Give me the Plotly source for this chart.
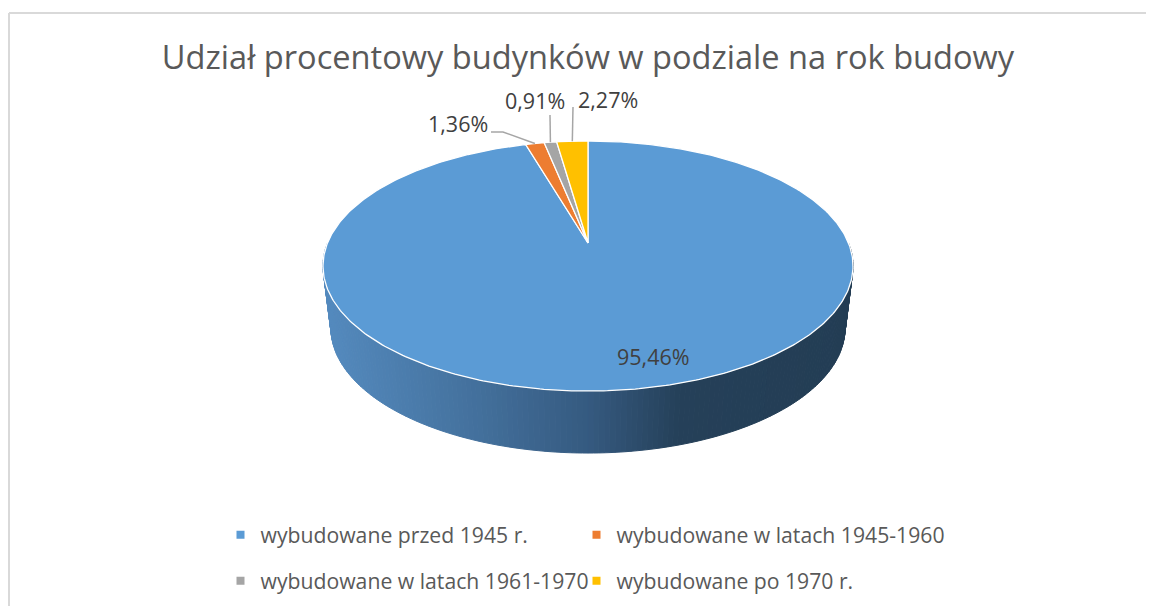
import math
import plotly.graph_objects as go

categories = ["wybudowane przed 1945 r.", "wybudowane w latach 1945-1960",
              "wybudowane w latach 1961-1970", "wybudowane po 1970 r."]
values = [95.46, 1.36, 0.91, 2.27]
colors = ["#5B9BD5", "#ED7D31", "#A5A5A5", "#FFC000"]
title = "Udział procentowy budynków w podziale na rok budowy"

# view geometry (axes are scaled in page pixels; the page body has an 8 px margin)
PAGE_W, PAGE_H, BODY = 1154, 606, 8
W, H = PAGE_W - BODY, PAGE_H - BODY
CX, CY = 588, 243
A, B, K = 260.5, 120.8, 0.184
DEPTH, SHRINK = 62, 0.97


def fx(x):
    return (x - BODY) / W


def fy(y):
    return 1 - (y - BODY) / H


def proj(theta, depth=0.0):
    w = 1 + K * math.cos(theta)
    s = 1 - (1 - SHRINK) * depth
    return CX + s * A * math.sin(theta) / w, CY + DEPTH * depth - B * math.cos(theta) / w


def lerp_color(x):
    stops = [(323, (0x54, 0x8A, 0xBE)), (460, (0x45, 0x73, 0xA0)), (588, (0x35, 0x5A, 0x80)),
             (680, (0x25, 0x40, 0x59)), (853, (0x23, 0x3D, 0x54))]
    for (x0, c0), (x1, c1) in zip(stops, stops[1:]):
        if x <= x1:
            t = max(0, (x - x0) / (x1 - x0))
            return "rgb(%d,%d,%d)" % tuple(round(a + (b - a) * t) for a, b in zip(c0, c1))
    return "rgb(35,61,84)"


fig = go.Figure()

# side wall, drawn as strips that follow the rim
N = 180
for i in range(N):
    t0 = math.pi / 2 + math.pi * i / N
    t1 = math.pi / 2 + math.pi * (i + 1) / N
    pts = [proj(t0), proj(t1), proj(t1, 1), proj(t0, 1)]
    pts.append(pts[0])
    col = lerp_color((pts[0][0] + pts[1][0]) / 2)
    fig.add_trace(go.Scatter(x=[p[0] for p in pts], y=[p[1] for p in pts], mode="lines",
                             fill="toself", fillcolor=col, line=dict(color=col, width=1),
                             hoverinfo="skip", showlegend=False))

# top face, slices clockwise from 12 o'clock
total = sum(values)
start = 0.0
mids = []
for name, v, c in zip(categories, values, colors):
    end = start + v / total * 2 * math.pi
    n = max(4, int((end - start) * 80))
    pts = [(CX, CY)] + [proj(start + (end - start) * j / n) for j in range(n + 1)] + [(CX, CY)]
    fig.add_trace(go.Scatter(x=[p[0] for p in pts], y=[p[1] for p in pts], mode="lines",
                             fill="toself", fillcolor=c, line=dict(color="#FFFFFF", width=1.3),
                             hoverinfo="skip", showlegend=False, name=name))
    mids.append((start + end) / 2)
    start = end

# percentage labels and leader lines
label_pos = [(653, 356), (458, 123), (535, 100), (608, 99)]
leaders = [None, [(491, 132), (503, 132)], [(550, 115)], [(573, 107)]]
for v, m, lp, ld in zip(values, mids, label_pos, leaders):
    if ld:
        pts = ld + [proj(m)]
        fig.add_trace(go.Scatter(x=[p[0] for p in pts], y=[p[1] for p in pts], mode="lines",
                                 line=dict(color="#A6A6A6", width=1.5),
                                 hoverinfo="skip", showlegend=False))
    fig.add_annotation(x=lp[0], y=lp[1], text=f"{v:.2f}%".replace(".", ","), showarrow=False,
                       font=dict(family="Open Sans", size=21.5, color="#404040"))

# legend entries, one positioned legend per grid cell (two rows, two columns)
legend_ids = ["legend", "legend2", "legend3", "legend4"]
legend_cells = [(220.5, 535), (576.5, 535), (220.5, 581), (576.5, 581)]
legend_layout = {}
for name, c, lid, (lx, ly) in zip(categories, colors, legend_ids, legend_cells):
    fig.add_trace(go.Scatter(x=[None], y=[None], mode="markers", name=name, legend=lid,
                             showlegend=True, marker=dict(symbol="square", size=8, color=c)))
    legend_layout[lid] = dict(x=fx(lx), y=fy(ly), orientation="h", xanchor="left", yanchor="middle",
                              itemwidth=30, bgcolor="rgba(0,0,0,0)",
                              font=dict(family="Open Sans", size=21.2, color="#595959"))

fig.update_layout(
    width=W, height=H, autosize=False, margin=dict(l=0, r=0, t=0, b=0),
    paper_bgcolor="#FFFFFF", plot_bgcolor="#FFFFFF",
    xaxis=dict(range=[BODY, PAGE_W], visible=False, fixedrange=True),
    yaxis=dict(range=[PAGE_H, BODY], visible=False, fixedrange=True),
    title=dict(text=title, x=fx(588), xanchor="center", y=fy(58), yanchor="middle",
               font=dict(family="Open Sans", size=32.6, color="#595959")),
    shapes=[dict(type="line", xref="x", yref="y", x0=9, y0=PAGE_H, x1=9, y1=13,
                 line=dict(color="#D9D9D9", width=2)),
            dict(type="line", xref="x", yref="y", x0=9, y0=13, x1=PAGE_W, y1=13,
                 line=dict(color="#D9D9D9", width=2))],
    **legend_layout,
)
fig.write_html("out.html")
